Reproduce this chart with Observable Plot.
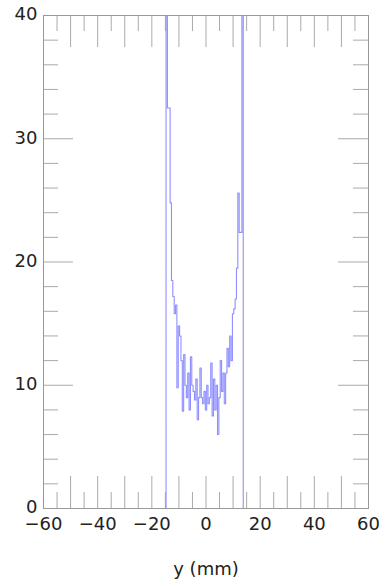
<!DOCTYPE html>
<html>
<head>
<meta charset="utf-8">
<script src="https://cdn.jsdelivr.net/npm/d3@7"></script>
<script src="https://cdn.jsdelivr.net/npm/@observablehq/plot@0.6"></script>
<style>
  html, body { margin: 0; padding: 0; background: #fff; }
  #chart svg { display: block; }
</style>
</head>
<body>
<div id="chart"></div>
<script>
// Histogram of y (mm): bin width 0.5 mm, first bin starts at -14.75 mm
const binStart = -14.75;
const binWidth = 0.5;
const counts = [
  48, 32.5, 32.5, 24.8, 18.5, 17.2, 15.8, 16.5, 9.8, 14.8,
  14.0, 12.0, 7.9, 12.5, 10.0, 9.0, 11.0, 8.0, 12.3, 10.0,
  9.5, 8.8, 10.5, 7.2, 9.0, 11.4, 9.0, 8.5, 9.5, 8.0,
  10.0, 8.5, 9.0, 11.8, 7.5, 10.5, 8.0, 10.0, 6.0, 9.0,
  12.0, 9.5, 11.0, 8.5, 11.0, 13.0, 11.5, 14.0, 12.0, 15.8,
  16.2, 17.0, 19.5, 25.6, 22.4, 22.4, 48
];
const xTicksMajor = [-50, -40, -30, -20, -10, 0, 10, 20, 30, 40, 50];
const xTicksMinor = [-55, -45, -35, -25, -15, -5, 5, 15, 25, 35, 45, 55];
const xTickLabels = [-60, -40, -20, 0, 20, 40, 60];
const yTicksMajor = [10, 20, 30];
const yTicksMinor = [2, 4, 6, 8, 12, 14, 16, 18, 22, 24, 26, 28, 32, 34, 36, 38];
const yTickLabels = [0, 10, 20, 30, 40];
const xLabel = "y (mm)";

// build step-line points
const pts = [{x: -60, y: 0}];
counts.forEach((c, i) => pts.push({x: binStart + i * binWidth, y: c}));
pts.push({x: binStart + counts.length * binWidth, y: 0});
pts.push({x: 60, y: 0});

const W = 379, H = 584;
const mL = 43, mR = 11, mT = 15, mB = 76;
const pxPerX = (W - mL - mR) / 120;
const pxPerY = (H - mT - mB) / 40;
const majLen = 32, minLen = 16;
const tickColor = "#aaa";

const plot = Plot.plot({
  width: W,
  height: H,
  marginLeft: mL,
  marginRight: mR,
  marginTop: mT,
  marginBottom: mB,
  style: {fontFamily: "'DejaVu Sans', sans-serif", background: "#fff"},
  x: {domain: [-60, 60]},
  y: {domain: [0, 40]},
  marks: [
    // bottom & top x ticks
    Plot.ruleX(xTicksMajor, {y1: 0, y2: majLen / pxPerY, stroke: tickColor}),
    Plot.ruleX(xTicksMinor, {y1: 0, y2: minLen / pxPerY, stroke: tickColor}),
    Plot.ruleX(xTicksMajor, {y1: 40, y2: 40 - majLen / pxPerY, stroke: tickColor}),
    Plot.ruleX(xTicksMinor, {y1: 40, y2: 40 - minLen / pxPerY, stroke: tickColor}),
    // left & right y ticks
    Plot.ruleY(yTicksMajor, {x1: -60, x2: -60 + 30 / pxPerX, stroke: tickColor}),
    Plot.ruleY(yTicksMinor, {x1: -60, x2: -60 + 15 / pxPerX, stroke: tickColor}),
    Plot.ruleY(yTicksMajor, {x1: 60, x2: 60 - 30 / pxPerX, stroke: tickColor}),
    Plot.ruleY(yTicksMinor, {x1: 60, x2: 60 - 15 / pxPerX, stroke: tickColor}),
    Plot.line(pts, {x: "x", y: "y", curve: "step-after", stroke: "#8f8fff", strokeWidth: 1.1, clip: true}),
    Plot.frame({stroke: "#999"}),
    Plot.axisY({ticks: yTickLabels, tickSize: 0, tickPadding: 6, fontSize: 18, label: null, fill: "#222", dy: -1}),
    Plot.axisX({ticks: xTickLabels, tickSize: 0, tickPadding: 9, fontSize: 18, fill: "#222",
      label: xLabel, labelAnchor: "center", labelArrow: "none", labelOffset: 66})
  ]
});
document.getElementById("chart").appendChild(plot);
</script>
</body>
</html>
